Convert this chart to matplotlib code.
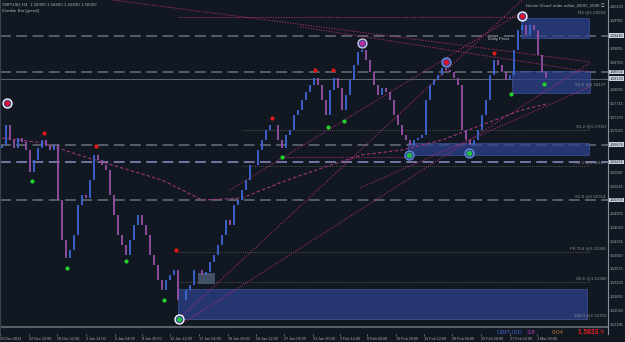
import matplotlib
matplotlib.use('Agg')
import matplotlib.pyplot as plt
import matplotlib.transforms as mtransforms
import numpy as np

############################################
#   Data (GBPUSD H4, one slot = 2 bars)
############################################
closes = [1.5668, 1.5718, 1.5680, 1.5660, 1.5685, 1.5675, 1.5655, 1.5600, 1.5630, 1.5660,
          1.5680, 1.5665, 1.5655, 1.5668, 1.5530, 1.5430, 1.5385, 1.5405, 1.5443, 1.5518,
          1.5543, 1.5535, 1.5580, 1.5643, 1.5630, 1.5618, 1.5605, 1.5543, 1.5493, 1.5443,
          1.5418, 1.5393, 1.5430, 1.5468, 1.5493, 1.5468, 1.5443, 1.5393, 1.5368, 1.5330,
          1.5305, 1.5330, 1.5343, 1.5355, 1.5280, 1.5280, 1.5305, 1.5318, 1.5355, 1.5355,
          1.5343, 1.5350, 1.5375, 1.5393, 1.5418, 1.5443, 1.5480, 1.5468, 1.5518, 1.5530,
          1.5555, 1.5580, 1.5618, 1.5618, 1.5655, 1.5680, 1.5705, 1.5718, 1.5718, 1.5680,
          1.5660, 1.5693, 1.5705, 1.5743, 1.5755, 1.5780, 1.5800, 1.5818, 1.5835, 1.5818,
          1.5780, 1.5743, 1.5805, 1.5835, 1.5810, 1.5755, 1.5793, 1.5830, 1.5868, 1.5900,
          1.5905, 1.5880, 1.5850, 1.5818, 1.5793, 1.5810, 1.5800, 1.5780, 1.5743, 1.5718,
          1.5693, 1.5680, 1.5668, 1.5680, 1.5685, 1.5693, 1.5780, 1.5818, 1.5830, 1.5843,
          1.5860, 1.5855, 1.5850, 1.5835, 1.5818, 1.5705, 1.5680, 1.5668, 1.5680, 1.5705,
          1.5743, 1.5780, 1.5843, 1.5880, 1.5868, 1.5850, 1.5830, 1.5843, 1.5905, 1.5955,
          1.5968, 1.5943, 1.5968, 1.5955, 1.5893, 1.5850, 1.5835]
first_open = 1.5660

ma_slots  = [0, 10, 20, 30, 40, 50, 60, 70, 80, 90, 100, 110, 120, 130, 136]
ma_values = [1.5685, 1.5673, 1.5640, 1.5610, 1.5580, 1.5530, 1.5535, 1.5575, 1.5610,
             1.5643, 1.5655, 1.5680, 1.5718, 1.5755, 1.5770]

red_dots   = [(10.5, 1.5698), (23.5, 1.5665), (43.5, 1.5405), (67.5, 1.5735),
              (78.25, 1.5855), (82.75, 1.5855), (123, 1.5898)]
green_dots = [(7.5, 1.5578), (16.25, 1.5360), (31, 1.5378), (40.5, 1.5280), (70, 1.5638),
              (81.5, 1.5713), (85.5, 1.5728), (127.25, 1.5795), (135.5, 1.5820)]
circles    = [(1.25, 1.5773, '#e0102a', 'white'), (44.25, 1.5233, '#1fc23a', 'white'),
              (90, 1.5923, '#c0309a', '#d8c8e8'), (111, 1.5875, '#e0102a', '#7090e0'),
              (130, 1.5990, '#e0102a', 'white'), (101.75, 1.5643, '#1fc23a', '#6088d8'),
              (116.75, 1.5648, '#1fc23a', '#6088d8')]

# zones: slot_from, slot_to, price_low, price_high
zones = [(129.75, 146.75, 1.5935, 1.5985), (127.5, 147, 1.5798, 1.5853),
         (101.5, 146.75, 1.5643, 1.5673), (44, 146.25, 1.5233, 1.5308)]
small_zone = (49, 53.25, 1.5320, 1.5348)

dashed_levels = [1.5940, 1.5850, 1.5668, 1.5530]
lavender_level = 1.5625
bid = 1.5833

dotted_levels = [(60, 1.5705), (60, 1.5615), (44, 1.5400), (44, 1.5325), (44, 1.5233)]
level_labels = [(1.5995, 'R4 @1.59918'), (1.5815, 'S1.6 @1.58127'), (1.5708, 'S1.2 @1.57001'),
                (1.5618, 'S1.5 @1.56127'), (1.5533, 'S1.8 @1.55314'), (1.5403, 'FE 764 @1.53990'),
                (1.5328, 'S6.6 @1.53300'), (1.5236, '100.0 @1.52350')]

# trend lines: (slot0, price0, slot1, price1)
trend_lines = [(27.75, 1.6030, 147, 1.5875), (44.25, 1.5233, 130, 1.6030),
               (45.75, 1.5225, 147, 1.5873), (57, 1.5555, 129.5, 1.5998),
               (74.5, 1.5963, 147, 1.5850), (89.5, 1.5560, 147, 1.5813),
               (70, 1.5638, 102, 1.5638), (44, 1.5988, 130, 1.5988)]

price_ticks = [1.60130, 1.59785, 1.59095, 1.58750, 1.58060, 1.57715, 1.57370, 1.57025,
               1.55990, 1.55645, 1.54955, 1.54610, 1.54265, 1.53920, 1.53575,
               1.53230, 1.52885, 1.52540, 1.52195]
hl_labels = [(1.5941, '1.59410'), (1.5850, '1.58502'), (1.5833, '1.58330'),
             (1.5668, '1.56676'), (1.5625, '1.56262'), (1.5530, '1.55305')]

date_slots  = [-0.5, 6.75, 13.75, 21, 28.25, 35, 42, 49.25, 56.5, 63.5, 70.5, 77.75,
               84.5, 91.25, 98.5, 105.5, 112.5, 119.75, 127, 133.75]
date_labels = ['20 Dec 2011', '22 Dec 12:00', '28 Dec 12:00', '2 Jan 12:00', '5 Jan 04:00',
               '9 Jan 20:00', '12 Jan 12:00', '17 Jan 04:00', '19 Jan 20:00', '24 Jan 12:00',
               '27 Jan 04:00', '31 Jan 20:00', '3 Feb 12:00', '8 Feb 04:00', '10 Feb 20:00',
               '15 Feb 12:00', '20 Feb 04:00', '22 Feb 20:00', '27 Feb 12:00', '1 Mar 04:00']

############################################
#   Figure setup
############################################
plt.rcParams['font.family'] = ['Liberation Sans', 'DejaVu Sans', 'Noto Sans CJK JP']
BG = '#111821'
TXT = '#a9adb5'
FS = 3.2
FS_AX = 2.7

fig = plt.figure(figsize=(6.25, 3.42), dpi=100, facecolor=BG)
ax = fig.add_axes([0, 8/342, 608/625, 334/342])
ax.set_facecolor(BG)
ax.set_xlim(-0.5, 151.5)
ax.set_ylim(1.5195, 1.6030)

for s in ['top', 'bottom']:
    ax.spines[s].set_visible(False)
ax.spines['left'].set_color('#3a404a')
ax.spines['right'].set_color('#8a9099')
ax.spines['right'].set_linewidth(0.8)

# separator line at the bottom
ax.plot([0, 1], [0.0195, 0.0195], transform=ax.transAxes, color='#5a5f68', lw=1.5)

############################################
#   Levels and zones
############################################
for lv in dashed_levels:
    ax.axhline(lv, color='#5c636e', lw=1.3, ls=(0, (6, 3)), zorder=1)
ax.axhline(lavender_level, color='#7c7cae', lw=1.3, ls=(0, (6, 3)), zorder=1)
ax.axhline(bid, color='#6a707a', lw=0.6, zorder=1)

for s0, lv in dotted_levels:
    ax.plot([s0, 147], [lv, lv], color='#6b6058', lw=0.6, ls=(0, (1, 1.5)), zorder=1)

for s0, s1, lo, hi in zones:
    ax.fill_between([s0, s1], lo, hi, color='#2f4391', alpha=0.72, lw=0.6,
                    edgecolor='#44569e', zorder=2)
s0, s1, lo, hi = small_zone
ax.fill_between([s0, s1], lo, hi, color='#53637e', alpha=0.75, lw=0, zorder=2)

for s0, p0, s1, p1 in trend_lines:
    ax.plot([s0, s1], [p0, p1], color='#b02c72', lw=0.7, ls=(0, (1.2, 1.5)), zorder=3)

ax.plot(ma_slots, ma_values, color='#a0357e', lw=0.8, ls=(0, (3, 2)), zorder=3)

############################################
#   Price bars
############################################
slots = np.arange(len(closes))
opens = [first_open] + closes[:-1]
cols = ['#3d68d6' if c >= o else '#9651a8' for o, c in zip(opens, closes)]
lo = np.minimum(opens, closes)
hi = np.maximum(opens, closes)
ax.vlines(slots, lo, hi, colors=cols, lw=1.3, zorder=4)

############################################
#   Markers
############################################
ax.scatter([d[0] for d in red_dots], [d[1] for d in red_dots], s=9, color='#e01818',
           zorder=6, lw=0)
ax.scatter([d[0] for d in green_dots], [d[1] for d in green_dots], s=9, color='#22d02a',
           zorder=6, lw=0)
for sx, py, inner, ring in circles:
    ax.scatter([sx], [py], s=55, color=ring, zorder=6, lw=0)
    ax.scatter([sx], [py], s=30, color='#3a4a9a', zorder=6, lw=0)
    ax.scatter([sx], [py], s=14, color=inner, zorder=7, lw=0)

############################################
#   Texts
############################################
for py, t in level_labels:
    ax.text(151.0, py, t, fontsize=FS, color='#8d8f94', ha='right', va='bottom', zorder=8)
ax.text(124, 1.5932, 'Daily Pivot', fontsize=FS, color='#c8c8cc', ha='center', va='center',
        zorder=8)

ax.text(0.004, 0.992, 'GBPUSD,H4  1.58360 1.58460 1.58330 1.58350', transform=ax.transAxes,
        fontsize=FS, color=TXT, va='top')
ax.text(0.004, 0.972, 'Zombie Bar [greed]', transform=ax.transAxes,
        fontsize=FS, color=TXT, va='top')
ax.text(0.995, 0.992, 'Islcom Visual order editor_MOD_5090 \u24d8', transform=ax.transAxes,
        fontsize=FS, color=TXT, va='top', ha='right',
        family=['Liberation Sans', 'Noto Sans CJK JP', 'DejaVu Sans'])

# right price axis
ax.yaxis.tick_right()
ax.set_yticks(price_ticks)
ax.set_yticklabels(['%.5f' % p for p in price_ticks])
ax.tick_params(axis='y', colors='#8a9099', labelcolor=TXT, labelsize=FS_AX, length=1,
               width=0.5, pad=0.3)
trans = mtransforms.blended_transform_factory(ax.transAxes, ax.transData)
for py, t in hl_labels:
    ax.text(1.0028, py, t, transform=trans, fontsize=FS_AX, color='#111111', va='center',
            ha='left', zorder=9, bbox=dict(boxstyle='square,pad=0.1', fc='#c8d1e2', ec='none'))

# bottom date axis
ax.set_xticks(date_slots)
ax.set_xticklabels(date_labels, ha='left')
ax.tick_params(axis='x', colors='#8a9099', labelcolor=TXT, labelsize=FS_AX, length=1.5,
               width=0.5, pad=0.5)

# status line
fig.text(497/625, 1 - 332/342, 'GBPUSD', fontsize=4.4, color='#4a5cc0', va='center')
fig.text(527/625, 1 - 332/342, '3.8', fontsize=4.4, color='#c040c8', va='center')
fig.text(552/625, 1 - 332/342, '0:04', fontsize=4.4, color='#b8703a', va='center')
fig.text(578/625, 1 - 332/342, '1.5833 >', fontsize=4.8, color='#e82020', va='center',
         fontweight='bold')

fig.savefig('out.png', dpi=100, facecolor=BG)
